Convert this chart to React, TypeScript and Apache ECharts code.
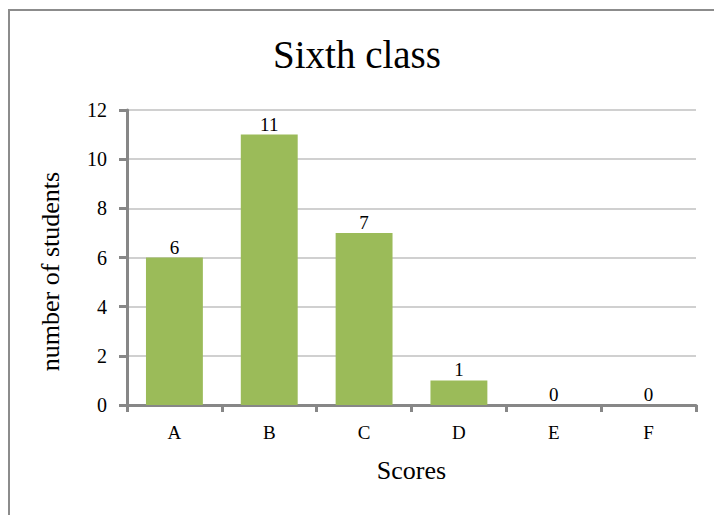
import React, { useEffect, useRef } from "react";
import * as echarts from "echarts";

const categories = ["A", "B", "C", "D", "E", "F"];
const students = [6, 11, 7, 1, 0, 0];
const yTicks = { min: 0, max: 12, interval: 2 };

export default function App() {
  const ref = useRef<HTMLDivElement>(null);
  useEffect(() => {
    const chart = echarts.init(ref.current!, null, { renderer: "svg" });
    const font = "'Liberation Serif', 'Times New Roman', serif";
    chart.setOption({
      animation: false,
      backgroundColor: "#ffffff",
      textStyle: { fontFamily: font },
      title: {
        text: "Sixth class",
        left: "center",
        top: 30,
        textStyle: { fontFamily: font, fontSize: 39, fontWeight: "normal", color: "#000" },
      },
      graphic: [
        {
          type: "rect",
          shape: { x: 9, y: 10, width: 720, height: 520 },
          style: { fill: "none", stroke: "#8c8c8c", lineWidth: 2 },
          silent: true,
        },
      ],
      grid: { left: 127, right: 18, top: 110, bottom: 110, containLabel: false },
      xAxis: {
        type: "category",
        data: categories,
        name: "Scores",
        nameLocation: "middle",
        nameGap: 52,
        nameTextStyle: { fontFamily: font, fontSize: 26, color: "#000" },
        axisLine: { lineStyle: { color: "#878787", width: 3 } },
        axisTick: { show: true, length: 7, lineStyle: { color: "#878787", width: 3 } },
        axisLabel: { fontFamily: font, fontSize: 19, color: "#000", margin: 18 },
      },
      yAxis: {
        type: "value",
        min: yTicks.min,
        max: yTicks.max,
        interval: yTicks.interval,
        name: "number of students",
        nameLocation: "middle",
        nameGap: 64,
        nameRotate: 90,
        nameTextStyle: {
          fontFamily: font,
          fontSize: 26,
          color: "#000",
          padding: [0, 28, 0, 0],
        },
        axisLine: { show: true, lineStyle: { color: "#878787", width: 3 } },
        axisTick: { show: true, length: 8, lineStyle: { color: "#878787", width: 3 } },
        axisLabel: { fontFamily: font, fontSize: 20, color: "#000", margin: 20 },
        splitLine: { lineStyle: { color: "#c0c0c0", width: 1.5 } },
      },
      series: [
        {
          type: "bar",
          data: students,
          barCategoryGap: "40%",
          itemStyle: { color: "#9bbb59" },
          label: {
            show: true,
            position: "top",
            distance: 1,
            fontFamily: font,
            fontSize: 19,
            color: "#000",
          },
        },
      ],
    });
    return () => chart.dispose();
  }, []);
  return (
    <div
      ref={ref}
      style={{ position: "fixed", left: 0, top: 0, width: 714, height: 515 }}
    />
  );
}
